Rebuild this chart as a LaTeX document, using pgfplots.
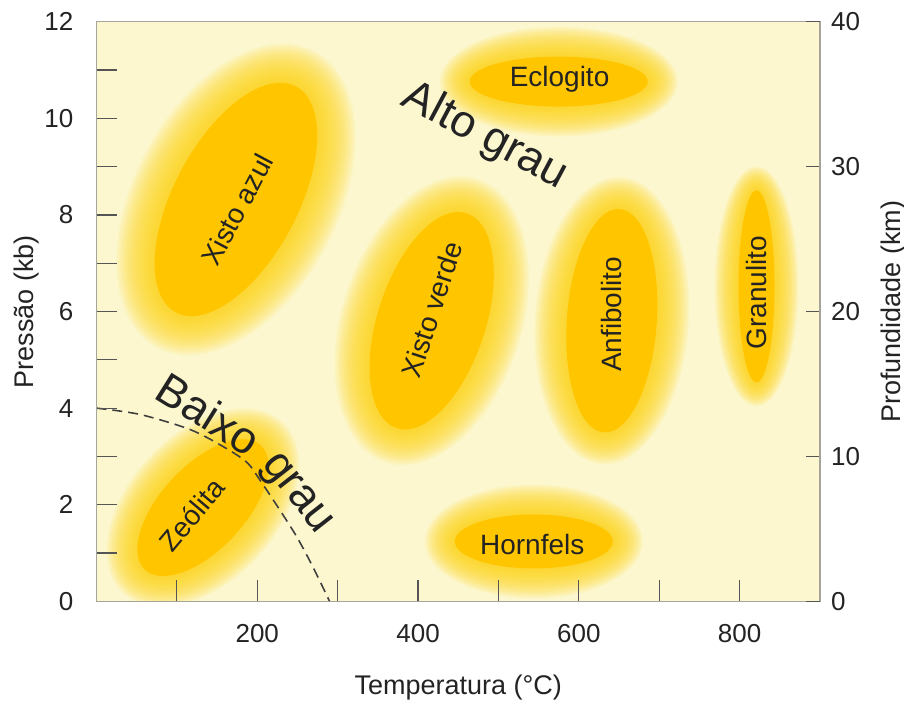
\documentclass[border=0pt]{standalone}
\usepackage{fontspec}
\setmainfont{Liberation Sans}
\usepackage{pgfplots}
\pgfplotsset{compat=1.18}

\definecolor{bg}{RGB}{252,247,206}
\definecolor{core}{RGB}{255,198,0}
\definecolor{glow}{RGB}{255,214,20}
\definecolor{framec}{RGB}{165,165,155}
\definecolor{tickc}{RGB}{85,85,85}
\definecolor{txt}{RGB}{35,35,35}

% glow around a facies field: x, y, angle, a (pt), b (pt), glow width (pt)
\newcommand{\glowpart}[6]{%
  \pgfplotsinvokeforeach{20,19,...,1}{%
    \fill[glow, fill opacity=0.08, rotate around={#3:(axis cs:#1,#2)}]
      (axis cs:#1,#2) ellipse [x radius={(#4+#6*##1/20)*1pt}, y radius={(#5+#6*##1/20)*1pt}];
  }%
}
\newcommand{\corepart}[5]{%
  \fill[core, rotate around={#3:(axis cs:#1,#2)}]
    (axis cs:#1,#2) ellipse [x radius=#4pt, y radius=#5pt];
}

\begin{document}
\begin{tikzpicture}
\begin{axis}[
  name=ax, at={(0,0)}, anchor=south west,
  scale only axis, width=362pt, height=290pt,
  xmin=0, xmax=900, ymin=0, ymax=12,
  axis background/.style={fill=bg},
  axis line style={framec, line width=0.8pt},
  xtick={100,200,...,800}, xticklabels={,200,,400,,600,,800},
  ytick={0,1,...,12}, yticklabels={0,,2,,4,,6,,8,,10,,12},
  xtick pos=lower, ytick pos=left,
  tick align=inside, major tick length=10.5pt,
  tick style={tickc, line width=0.6pt},
  /pgf/number format/assume math mode=true,
  tick label style={font=\fontsize{13}{15}\selectfont, text=txt},
  yticklabel style={xshift=-8pt},
  xticklabel style={yshift=-8pt},
  xlabel={Temperatura (°C)}, ylabel={Pressão (kb)},
  label style={font=\fontsize{13.5}{16}\selectfont, text=txt},
  xlabel style={at={(axis description cs:0.5,-0.148)}, anchor=center},
  ylabel style={at={(axis description cs:-0.096,0.5)}, anchor=center},
  axis on top,
]
% glows
\glowpart{173.5}{8.32}{62}{64}{31}{20}
\glowpart{417}{5.81}{72}{56.5}{27}{18}
\glowpart{641}{5.81}{86}{56}{22.5}{16}
\glowpart{821}{6.52}{90}{48}{9}{12}
\glowpart{575}{10.76}{0}{44.5}{12.5}{15}
\glowpart{544}{1.24}{0}{39.5}{13.5}{15}
\glowpart{132.5}{1.94}{47}{42.5}{21}{16}
% cores
\corepart{173.5}{8.32}{62}{64}{31}
\corepart{417}{5.81}{72}{56.5}{27}
\corepart{641}{5.81}{86}{56}{22.5}
\corepart{821}{6.52}{90}{48}{9}
\corepart{575}{10.76}{0}{44.5}{12.5}
\corepart{544}{1.24}{0}{39.5}{13.5}
\corepart{132.5}{1.94}{47}{42.5}{21}

% low-grade limit
\addplot[smooth, black!75, line width=0.8pt, dash pattern=on 5pt off 3pt] coordinates {
  (0,4.0) (54,3.87) (116,3.56) (157,3.21) (187,2.88) (203,2.52)
  (225,1.97) (249,1.34) (269,0.72) (290,0)
};

\begin{scope}[every node/.style={font=\fontsize{14}{16}\selectfont, text=txt}]
\node[rotate=62] at (axis cs:174.8,8.11) {Xisto azul};
\node[rotate=72] at (axis cs:417,6.04) {Xisto verde};
\node[rotate=90] at (axis cs:641,5.94) {Anfibolito};
\node[rotate=90] at (axis cs:821,6.39) {Granulito};
\node at (axis cs:576,10.8) {Eclogito};
\node at (axis cs:542,1.18) {Hornfels};
\node[rotate=50] at (axis cs:119,1.8) {Zeólita};
\end{scope}
\begin{scope}[every node/.style={font=\fontsize{22.5}{24}\selectfont, text=txt}]
\node[rotate=-28] at (axis cs:483,9.62) {Alto grau};
\node[rotate=-32] at (axis cs:140,3.88) {Baixo};
\node[rotate=-52] at (axis cs:247,2.2) {grau};
\end{scope}
\end{axis}

\begin{axis}[
  at={(0,0)}, anchor=south west,
  scale only axis, width=362pt, height=290pt,
  xmin=0, xmax=900, ymin=0, ymax=40,
  axis x line=none, axis y line*=right,
  axis line style={framec, line width=0.8pt},
  ytick={0,10,...,40},
  tick align=inside, major tick length=7pt,
  tick style={tickc, line width=0.6pt},
  /pgf/number format/assume math mode=true,
  tick label style={font=\fontsize{13}{15}\selectfont, text=txt},
  yticklabel style={xshift=2pt},
  ylabel={Profundidade (km)},
  label style={font=\fontsize{13.5}{16}\selectfont, text=txt},
  ylabel style={at={(axis description cs:1.101,0.5)}, anchor=center},
]
\end{axis}

\pgfresetboundingbox
\path ([shift={(-48.25pt,-51pt)}]ax.south west) rectangle ([shift={(42pt,10.85pt)}]ax.north east);
\end{tikzpicture}
\end{document}
